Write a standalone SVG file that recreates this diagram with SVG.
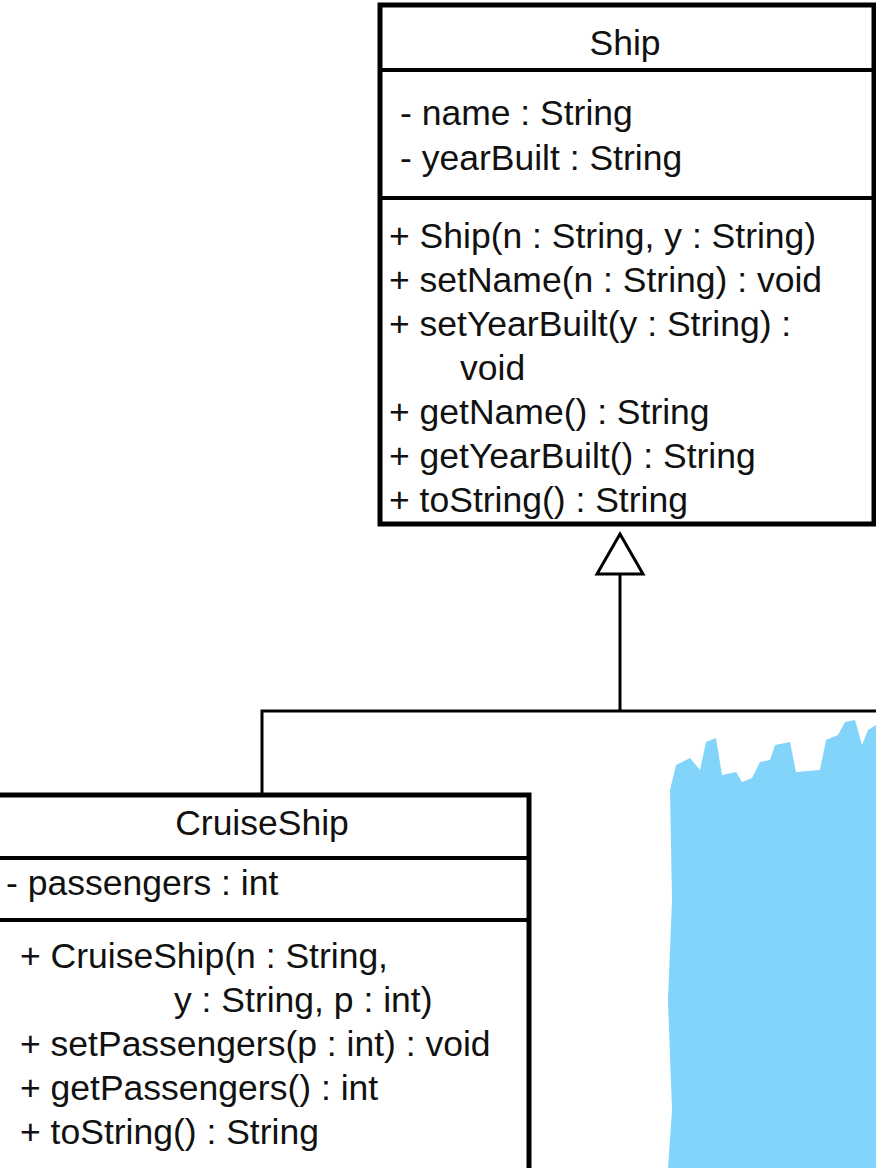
<svg xmlns="http://www.w3.org/2000/svg" width="876" height="1168" viewBox="0 0 876 1168">
<style>
.box{fill:#fff;stroke:#000;stroke-width:5}
.sep{stroke:#000;stroke-width:4}
text{font-family:"Liberation Sans",Arial,sans-serif;font-size:35.5px;fill:#111}
.c{text-anchor:middle}
.ln{fill:none;stroke:#000;stroke-width:3}
</style>
<g id="connectors">
<polyline class="ln" points="262,795 262,711 876,711"/>
<line class="ln" x1="620" y1="711" x2="620" y2="574"/>
<polygon points="620,534 597,574 643,574" fill="#fff" stroke="#000" stroke-width="3"/>
</g>
<g id="Ship">
<rect class="box" x="380" y="5" width="494" height="519"/>
<line class="sep" x1="380" y1="70" x2="874" y2="70"/>
<line class="sep" x1="380" y1="198" x2="874" y2="198"/>
<text class="c" x="625" y="55">Ship</text>
<text x="400" y="125">- name : String</text>
<text x="400" y="170">- yearBuilt : String</text>
<text x="389" y="248">+ Ship(n : String, y : String)</text>
<text x="389" y="292">+ setName(n : String) : void</text>
<text x="389" y="336">+ setYearBuilt(y : String) :</text>
<text x="460" y="380">void</text>
<text x="389" y="424">+ getName() : String</text>
<text x="389" y="468">+ getYearBuilt() : String</text>
<text x="389" y="512">+ toString() : String</text>
</g>
<g id="CruiseShip">
<rect class="box" x="-3" y="795" width="532" height="380"/>
<line class="sep" x1="0" y1="858" x2="529" y2="858"/>
<line class="sep" x1="0" y1="920" x2="529" y2="920"/>
<text class="c" x="262" y="835">CruiseShip</text>
<text x="6" y="895">- passengers : int</text>
<text x="20" y="968">+ CruiseShip(n : String,</text>
<text x="174" y="1012">y : String, p : int)</text>
<text x="20" y="1056">+ setPassengers(p : int) : void</text>
<text x="20" y="1100">+ getPassengers() : int</text>
<text x="20" y="1144">+ toString() : String</text>
</g>
<path d="M670,790 L676,765 L690,758 L700,770 L706,742 L716,738 L722,775 L736,772 L742,782 L752,778 L760,762 L770,760 L775,745 L790,742 L796,772 L820,770 L826,740 L838,735 L845,722 L855,720 L862,745 L868,730 L876,725 L876,1168 L668,1168 L672,1110 L668,1000 L672,900 Z" fill="#82d4fb"/>
</svg>
